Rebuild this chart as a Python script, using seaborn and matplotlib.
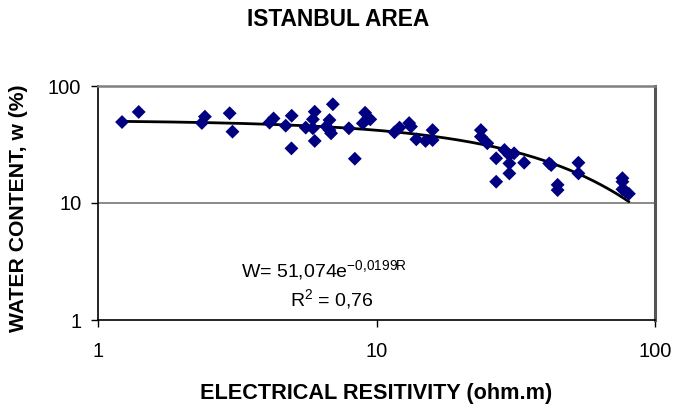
import matplotlib
matplotlib.use("Agg")
import matplotlib.pyplot as plt
import seaborn as sns
import numpy as np
import pandas as pd

# ---- data ----
resistivity = [1.22, 1.40, 2.36, 2.42, 2.97, 3.04, 4.13, 4.27, 4.72, 4.96, 4.95,
               5.57, 5.91, 5.91, 6.00, 6.00, 6.60, 6.78, 6.87, 6.97, 6.78, 7.96,
               8.36, 8.93, 9.10, 9.30, 9.50, 11.6, 12.1, 13.1, 13.3, 13.9, 15.0,
               15.9, 15.9, 23.7, 23.7, 25.0, 26.9, 26.9, 28.8, 30.0, 30.0, 30.0,
               31.2, 33.9, 41.7, 42.4, 44.7, 44.7, 53.1, 53.1, 76.4, 76.4, 76.4,
               78.6, 80.6]
water_content = [49.2, 60.0, 48.3, 54.7, 58.5, 40.7, 48.6, 52.8, 45.8, 55.7, 29.3,
                 44.1, 43.5, 51.9, 60.3, 33.9, 45.0, 51.2, 39.4, 69.8, 42.0, 43.5,
                 23.9, 48.0, 59.1, 52.8, 51.9, 40.2, 44.1, 48.2, 45.0, 35.0, 33.9,
                 42.0, 34.5, 42.0, 36.9, 32.4, 24.1, 15.2, 28.4, 25.7, 21.8, 17.9,
                 26.6, 22.1, 21.8, 21.1, 14.3, 12.9, 22.1, 17.9, 16.3, 15.2, 13.1,
                 12.5, 12.0]

fit_a = 51.074
fit_b = -0.0199
x_ticks = [1, 10, 100]
y_ticks = [1, 10, 100]
x_tick_labels = ["1", "10", "100"]
y_tick_labels = ["1", "10", "100"]

title = "ISTANBUL AREA"
x_label = "ELECTRICAL RESITIVITY (ohm.m)"
y_label = "WATER CONTENT, w (%)"
eq_text = r"W= 51,074e$^{-0{,}0199R}$"
r2_text = r"R$^{2}$ = 0,76"

df = pd.DataFrame({"R": resistivity, "W": water_content})
fit_x = np.geomspace(min(resistivity), max(resistivity), 200)
fit_df = pd.DataFrame({"R": fit_x, "W": fit_a * np.exp(fit_b * fit_x)})

sns.set_style("white")
plt.rcParams["font.family"] = ["Liberation Sans", "DejaVu Sans"]
plt.rcParams["mathtext.fontset"] = "custom"
plt.rcParams["mathtext.rm"] = "Liberation Sans"
plt.rcParams["mathtext.it"] = "Liberation Sans"
plt.rcParams["mathtext.default"] = "regular"
plt.rcParams["text.color"] = "black"
plt.rcParams["xtick.color"] = "black"
plt.rcParams["ytick.color"] = "black"

fig = plt.figure(figsize=(6.73, 4.05), dpi=100)
ax = fig.add_axes([98 / 673, 1 - 320 / 405, (655 - 98) / 673, (320 - 86) / 405])

ax.set_xscale("log")
ax.set_yscale("log")
ax.set_xlim(1, 100)
ax.set_ylim(1, 100)

ax.axhline(10, color="#808080", lw=1.3, zorder=1)

sns.lineplot(data=fit_df, x="R", y="W", ax=ax, color="black", lw=2.0,
             zorder=2, legend=False)
sns.scatterplot(data=df, x="R", y="W", ax=ax, marker="D", s=50,
                color="#000080", edgecolor="none", zorder=3, legend=False)

ax.set_xticks(x_ticks)
ax.set_xticklabels(x_tick_labels)
ax.set_yticks(y_ticks)
ax.set_yticklabels(y_tick_labels)
ax.minorticks_off()
ax.tick_params(axis="both", which="major", direction="out", length=5,
               width=1, color="black", labelcolor="black", labelsize=14.5,
               left=True, bottom=True)
ax.tick_params(axis="x", pad=11)
ax.tick_params(axis="y", pad=7)
ax.set_xlabel("")
ax.set_ylabel("")

for side in ["left", "bottom"]:
    ax.spines[side].set_color("black")
    ax.spines[side].set_linewidth(1.2)
ax.spines["top"].set_color("#808080")
ax.spines["top"].set_linewidth(1.8)
ax.spines["right"].set_color("#555555")
ax.spines["right"].set_linewidth(2.2)

fig.text(338 / 673, 1 - 20 / 405, title, ha="center", va="center",
         fontsize=16.4, fontweight="bold", color="black")
fig.text(376 / 673, 1 - 393 / 405, x_label, ha="center", va="center",
         fontsize=15.6, fontweight="bold", color="black")
fig.text(19 / 673, 1 - 208 / 405, y_label, ha="center", va="center",
         rotation=90, fontsize=15.2, fontweight="bold", color="black")

ax.text(0.405, 0.215, eq_text, transform=ax.transAxes, ha="center",
        va="center", fontsize=14, color="black")
ax.text(0.42, 0.09, r2_text, transform=ax.transAxes, ha="center",
        va="center", fontsize=14, color="black")

fig.savefig("out.png", dpi=100, facecolor="white")
